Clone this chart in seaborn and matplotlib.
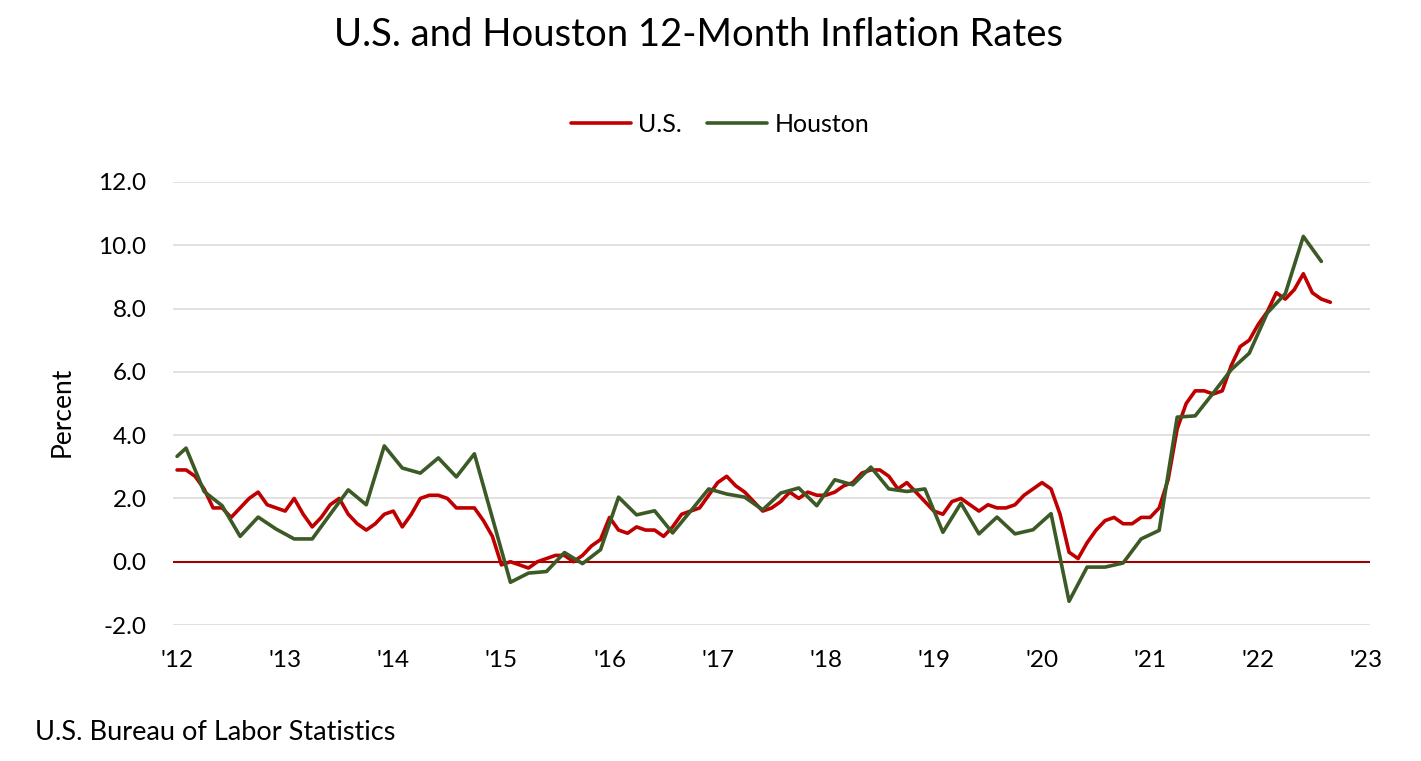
import numpy as np
import pandas as pd
import matplotlib
matplotlib.use("Agg")
import matplotlib.pyplot as plt
import seaborn as sns
from matplotlib.lines import Line2D

# ---- Data ----
# U.S. CPI 12-month change, monthly Jan 2012 .. Sep 2022
us_values = [
    2.9, 2.9, 2.7, 2.3, 1.7, 1.7, 1.4, 1.7, 2.0, 2.2, 1.8, 1.7,   # 2012
    1.6, 2.0, 1.5, 1.1, 1.4, 1.8, 2.0, 1.5, 1.2, 1.0, 1.2, 1.5,   # 2013
    1.6, 1.1, 1.5, 2.0, 2.1, 2.1, 2.0, 1.7, 1.7, 1.7, 1.3, 0.8,   # 2014
    -0.1, 0.0, -0.1, -0.2, 0.0, 0.1, 0.2, 0.2, 0.0, 0.2, 0.5, 0.7,  # 2015
    1.4, 1.0, 0.9, 1.1, 1.0, 1.0, 0.8, 1.1, 1.5, 1.6, 1.7, 2.1,   # 2016
    2.5, 2.7, 2.4, 2.2, 1.9, 1.6, 1.7, 1.9, 2.2, 2.0, 2.2, 2.1,   # 2017
    2.1, 2.2, 2.4, 2.5, 2.8, 2.9, 2.9, 2.7, 2.3, 2.5, 2.2, 1.9,   # 2018
    1.6, 1.5, 1.9, 2.0, 1.8, 1.6, 1.8, 1.7, 1.7, 1.8, 2.1, 2.3,   # 2019
    2.5, 2.3, 1.5, 0.3, 0.1, 0.6, 1.0, 1.3, 1.4, 1.2, 1.2, 1.4,   # 2020
    1.4, 1.7, 2.6, 4.2, 5.0, 5.4, 5.4, 5.3, 5.4, 6.2, 6.8, 7.0,   # 2021
    7.5, 7.9, 8.5, 8.3, 8.6, 9.1, 8.5, 8.3, 8.2,                  # 2022
]
us_months = list(range(len(us_values)))  # months since Jan 2012

# Houston CPI 12-month change (Jan 2012, then bimonthly Feb 2012 .. Aug 2022)
houston_months = [0] + list(range(1, 128, 2))
houston_values = [
    3.33, 3.59, 2.22, 1.77, 0.80, 1.41, 1.03,
    0.72, 0.72, 1.50, 2.27, 1.80, 3.66,
    2.96, 2.80, 3.28, 2.68, 3.41, 1.38,
    -0.65, -0.36, -0.31, 0.29, -0.06, 0.38,
    2.04, 1.48, 1.61, 0.91, 1.60, 2.30,
    2.14, 2.04, 1.64, 2.17, 2.33, 1.77,
    2.59, 2.43, 2.99, 2.30, 2.22, 2.30,
    0.93, 1.85, 0.88, 1.41, 0.88, 1.01,
    1.52, -1.25, -0.17, -0.17, -0.04, 0.72,
    0.99, 4.57, 4.61, 5.33, 6.07, 6.59,
    7.86, 8.47, 10.28, 9.49,
]

year_ticks = list(range(0, 133, 12))
year_labels = ["'12", "'13", "'14", "'15", "'16", "'17", "'18", "'19", "'20", "'21", "'22", "'23"]
y_ticks = [-2, 0, 2, 4, 6, 8, 10, 12]

series_names = ["U.S.", "Houston"]
colors = {"U.S.": "#C00000", "Houston": "#3B5A25"}

df = pd.concat([
    pd.DataFrame({"month": us_months, "value": us_values, "series": "U.S."}),
    pd.DataFrame({"month": houston_months, "value": houston_values, "series": "Houston"}),
], ignore_index=True)

# ---- Style ----
sns.set_theme(style="white")
plt.rcParams["font.family"] = ["Lato", "DejaVu Sans"]
plt.rcParams["text.color"] = "black"
plt.rcParams["xtick.color"] = "black"
plt.rcParams["ytick.color"] = "black"

W, H = 1421, 761
fig = plt.figure(figsize=(W / 100, H / 100), dpi=100)
ax = fig.add_axes([173 / W, 1 - 625 / H, (1370 - 173) / W, (625 - 182) / H])

# gridlines (except zero)
for yv in y_ticks:
    if yv != 0:
        ax.axhline(yv, color="#D9D9D9", linewidth=1.1, zorder=0)
ax.axhline(0, color="#A00000", linewidth=1.5, zorder=1)

sns.lineplot(data=df, x="month", y="value", hue="series", hue_order=series_names,
             palette=colors, linewidth=2.6, ax=ax, legend=False, zorder=3,
             estimator=None, sort=True)

ax.set_xlim(-0.45, 132.4)
ax.set_ylim(-2, 12)
ax.set_yticks(y_ticks)
ax.set_yticklabels([f"{v:.1f}" for v in y_ticks], fontsize=17.5, color="black")
ax.set_xticks(year_ticks)
ax.set_xticklabels(year_labels, fontsize=17.5, color="black")
ax.tick_params(axis="both", length=0)
ax.tick_params(axis="y", pad=19)
ax.tick_params(axis="x", pad=18)
for s in ax.spines.values():
    s.set_visible(False)
ax.set_xlabel("")
ax.set_ylabel("")

fig.text(62 / W, 1 - 412 / H, "Percent", rotation=90, ha="center", va="center",
         fontsize=19, color="black")
fig.text(698 / W, 1 - 35 / H, "U.S. and Houston 12-Month Inflation Rates",
         ha="center", va="center", fontsize=27.5, color="black")
fig.text(35 / W, 1 - 733 / H, "U.S. Bureau of Labor Statistics",
         ha="left", va="center", fontsize=19.5, color="black")

handles = [Line2D([0], [0], color=colors[n], linewidth=2.6) for n in series_names]
fig.legend(handles, series_names, loc="center", bbox_to_anchor=(720 / W, 1 - 124 / H),
           ncol=2, frameon=False, fontsize=18, handlelength=2.4, handletextpad=0.3,
           columnspacing=1.0, labelcolor="black")

fig.savefig("out.png", dpi=100, facecolor="white")
